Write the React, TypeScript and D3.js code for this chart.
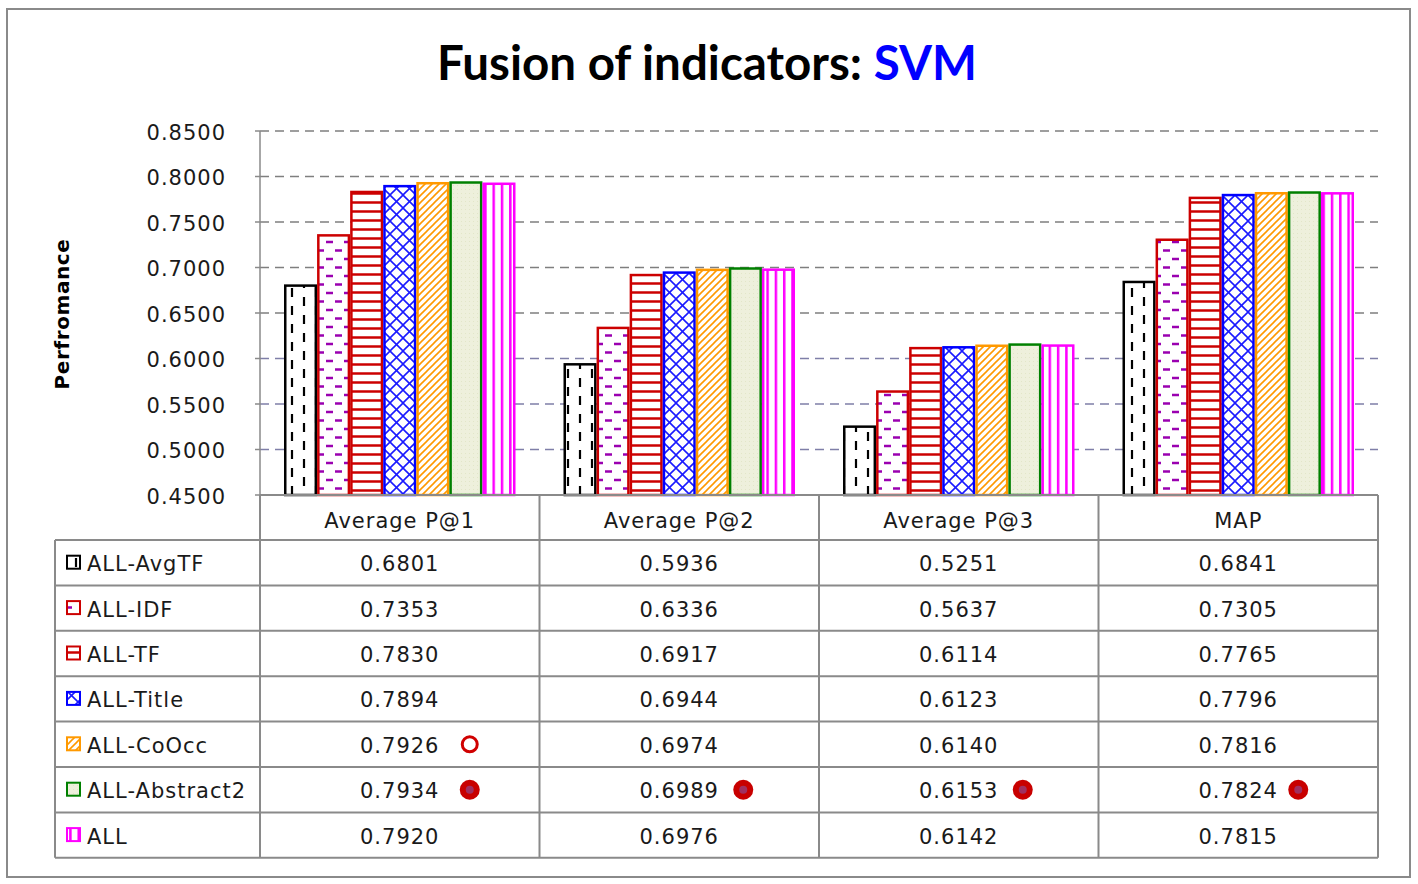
import React from "react";
import * as d3 from "d3";

const categories = ["Average P@1", "Average P@2", "Average P@3", "MAP"];
const seriesNames = ["ALL-AvgTF", "ALL-IDF", "ALL-TF", "ALL-Title", "ALL-CoOcc", "ALL-Abstract2", "ALL"];
const valuesAvgTF = [0.6801, 0.5936, 0.5251, 0.6841];
const valuesIDF = [0.7353, 0.6336, 0.5637, 0.7305];
const valuesTF = [0.783, 0.6917, 0.6114, 0.7765];
const valuesTitle = [0.7894, 0.6944, 0.6123, 0.7796];
const valuesCoOcc = [0.7926, 0.6974, 0.614, 0.7816];
const valuesAbstract2 = [0.7934, 0.6989, 0.6153, 0.7824];
const valuesALL = [0.792, 0.6976, 0.6142, 0.7815];
const yTicks = [0.45, 0.5, 0.55, 0.6, 0.65, 0.7, 0.75, 0.8, 0.85];
// annotation marks: [seriesIndex, categoryIndex, filled]
const bestMarks: [number, number, boolean][] = [
  [4, 0, false],
  [5, 0, true],
  [5, 1, true],
  [5, 2, true],
  [5, 3, true],
];

const allValues = [valuesAvgTF, valuesIDF, valuesTF, valuesTitle, valuesCoOcc, valuesAbstract2, valuesALL];
const strokeColors = ["#000000", "#cc0000", "#cc0000", "#0000ff", "#ff9900", "#008000", "#ff00ff"];

const W = 1418;
const H = 884;
const plotLeft = 260;
const plotRight = 1378;
const tableLeft = 55;
const rowH = 45.4;
const headerTop = 495;
const headerBottom = 540;
// horizontal offset of the annotation circles from the column centre, per column
const markOffsets = [70, 64, 64, 60];

const FONT = "'DejaVu Sans', Verdana, sans-serif";

function Patterns() {
  return (
    <defs>
      <pattern id="p0" patternUnits="userSpaceOnUse" width={24} height={18}>
        <rect width={24} height={18} fill="#fff" />
        <line x1={4} y1={0} x2={4} y2={9} stroke="#000" strokeWidth={2.2} />
        <line x1={16} y1={9} x2={16} y2={18} stroke="#000" strokeWidth={2.2} />
      </pattern>
      <pattern id="p1" patternUnits="userSpaceOnUse" width={18} height={17}>
        <rect width={18} height={17} fill="#fff" />
        <line x1={2} y1={4} x2={9} y2={4} stroke="#9a00b0" strokeWidth={2.5} />
        <line x1={11} y1={12.5} x2={18} y2={12.5} stroke="#9a00b0" strokeWidth={2.5} />
      </pattern>
      <pattern id="p2" patternUnits="userSpaceOnUse" width={10} height={9}>
        <rect width={10} height={9} fill="#fff" />
        <line x1={0} y1={4.5} x2={10} y2={4.5} stroke="#cc0000" strokeWidth={2.5} />
      </pattern>
      <pattern id="p3" patternUnits="userSpaceOnUse" width={13} height={13}>
        <rect width={13} height={13} fill="#fff" />
        <line x1={0} y1={0} x2={13} y2={13} stroke="#1a1aff" strokeWidth={1.6} />
        <line x1={13} y1={0} x2={0} y2={13} stroke="#1a1aff" strokeWidth={1.6} />
      </pattern>
      <pattern id="p4" patternUnits="userSpaceOnUse" width={7} height={7}>
        <rect width={7} height={7} fill="#fff" />
        <line x1={0} y1={7} x2={7} y2={0} stroke="#ff9900" strokeWidth={1.6} />
        <line x1={-1} y1={1} x2={1} y2={-1} stroke="#ff9900" strokeWidth={1.6} />
        <line x1={6} y1={8} x2={8} y2={6} stroke="#ff9900" strokeWidth={1.6} />
      </pattern>
      <pattern id="p5" patternUnits="userSpaceOnUse" width={4} height={4}>
        <rect width={4} height={4} fill="#eef0dc" />
        <rect x={1} y={1} width={1} height={1} fill="#e2e6c8" />
      </pattern>
      <pattern id="p6" patternUnits="userSpaceOnUse" width={8.3} height={10}>
        <rect width={8.3} height={10} fill="#fff" />
        <line x1={4} y1={0} x2={4} y2={10} stroke="#ff00ff" strokeWidth={2.5} />
      </pattern>
    </defs>
  );
}

export default function App() {
  const x = d3.scaleBand<string>().domain(categories).range([plotLeft, plotRight]).padding(0);
  const inner = d3
    .scaleBand<string>()
    .domain(seriesNames)
    .range([24, x.bandwidth() - 24])
    .padding(0);
  const y = d3.scaleLinear().domain([0.45, 0.85]).range([495, 131]);
  const fmt = d3.format(".4f");

  const rowY = (i: number) => headerBottom + i * rowH;
  const tableBottom = rowY(seriesNames.length);
  const colEdges = [...categories.map((c) => x(c)!), plotRight];
  const textShift = 1.5;

  return (
    <svg width={W} height={H} style={{ position: "absolute", left: 0, top: 0, background: "#fff" }}>
      <Patterns />
      <rect x={0} y={0} width={W} height={H} fill="#fff" />
      {/* outer frame */}
      <rect x={7} y={9} width={1403} height={868} fill="none" stroke="#8a8a8a" strokeWidth={2} />

      {/* title */}
      <text
        x={707}
        y={80}
        textAnchor="middle"
        fontFamily="Lato, 'Open Sans', sans-serif"
        fontWeight="bold"
        fontSize={47.5}
        fill="#000"
      >
        Fusion of indicators: <tspan fill="#0000ff">SVM</tspan>
      </text>

      {/* gridlines */}
      {yTicks.slice(1).map((t) => (
        <line
          key={"g" + t}
          x1={plotLeft}
          x2={plotRight}
          y1={y(t)}
          y2={y(t)}
          stroke={t <= 0.6 ? "#7f7fa8" : "#7f7f7f"}
          strokeWidth={1.5}
          strokeDasharray="9,6"
        />
      ))}

      {/* y axis */}
      <line x1={plotLeft} x2={plotLeft} y1={y(0.85)} y2={y(0.45)} stroke="#8a8a8a" strokeWidth={1.5} />
      {yTicks.map((t) => (
        <g key={"t" + t}>
          <line x1={plotLeft - 5} x2={plotLeft} y1={y(t)} y2={y(t)} stroke="#8a8a8a" strokeWidth={1.5} />
          <text
            x={226}
            y={y(t) + textShift}
            textAnchor="end"
            dominantBaseline="central"
            fontFamily={FONT}
            fontSize={21}
            letterSpacing={1}
            fill="#1a1a1a"
          >
            {fmt(t)}
          </text>
        </g>
      ))}
      <text
        transform={`translate(62,${314}) rotate(-90)`}
        textAnchor="middle"
        dominantBaseline="central"
        fontFamily={FONT}
        fontWeight="bold"
        fontSize={20}
        letterSpacing={0.6}
        fill="#000"
      >
        Perfromance
      </text>

      {/* bars */}
      {categories.map((c, ci) => (
        <g key={c}>
          {seriesNames.map((s, si) => {
            const v = allValues[si][ci];
            const bx = x(c)! + inner(s)!;
            return (
              <rect
                key={s}
                x={bx + 1.25}
                y={y(v)}
                width={inner.bandwidth() - 2.5}
                height={y(0.45) - y(v)}
                fill={`url(#p${si})`}
                stroke={strokeColors[si]}
                strokeWidth={2.5}
              />
            );
          })}
        </g>
      ))}

      {/* x axis line */}
      <line x1={plotLeft} x2={plotRight} y1={headerTop} y2={headerTop} stroke="#8a8a8a" strokeWidth={2} />

      {/* table grid */}
      <g stroke="#8a8a8a" strokeWidth={2}>
        {colEdges.map((cx, i) => (
          <line key={"c" + i} x1={cx} x2={cx} y1={headerTop} y2={tableBottom} />
        ))}
        <line x1={tableLeft} x2={tableLeft} y1={headerBottom} y2={tableBottom} />
        {seriesNames.map((s, i) => (
          <line key={"r" + s} x1={tableLeft} x2={plotRight} y1={rowY(i)} y2={rowY(i)} />
        ))}
        <line x1={tableLeft} x2={plotRight} y1={tableBottom} y2={tableBottom} />
      </g>

      {/* category header */}
      {categories.map((c) => (
        <text
          key={"h" + c}
          x={x(c)! + x.bandwidth() / 2}
          y={(headerTop + headerBottom) / 2 + 3}
          textAnchor="middle"
          dominantBaseline="central"
          fontFamily={FONT}
          fontSize={21}
          letterSpacing={1}
          fill="#1a1a1a"
        >
          {c}
        </text>
      ))}

      {/* rows */}
      {seriesNames.map((s, si) => {
        const cy = rowY(si) + rowH / 2;
        return (
          <g key={"row" + s}>
            <rect
              x={67}
              y={cy - 7}
              width={13}
              height={13}
              fill={`url(#p${si})`}
              stroke={strokeColors[si]}
              strokeWidth={2}
            />
            <text
              x={87}
              y={cy + textShift}
              dominantBaseline="central"
              fontFamily={FONT}
              fontSize={21}
              letterSpacing={1}
              fill="#1a1a1a"
            >
              {s}
            </text>
            {categories.map((c, ci) => (
              <text
                key={c}
                x={x(c)! + x.bandwidth() / 2}
                y={cy + textShift}
                textAnchor="middle"
                dominantBaseline="central"
                fontFamily={FONT}
                fontSize={21}
                letterSpacing={1}
                fill="#1a1a1a"
              >
                {fmt(allValues[si][ci])}
              </text>
            ))}
          </g>
        );
      })}

      {/* best-value marks */}
      {bestMarks.map(([si, ci, filled], k) => {
        const cx = x(categories[ci])! + x.bandwidth() / 2 + markOffsets[ci];
        const cy = rowY(si) + rowH / 2;
        return filled ? (
          <g key={"m" + k}>
            <circle cx={cx} cy={cy} r={10} fill="#c80000" />
            <circle cx={cx} cy={cy} r={4} fill="#a03060" />
          </g>
        ) : (
          <circle key={"m" + k} cx={cx} cy={cy} r={7.5} fill="#fff" stroke="#d00000" strokeWidth={3} />
        );
      })}
    </svg>
  );
}
